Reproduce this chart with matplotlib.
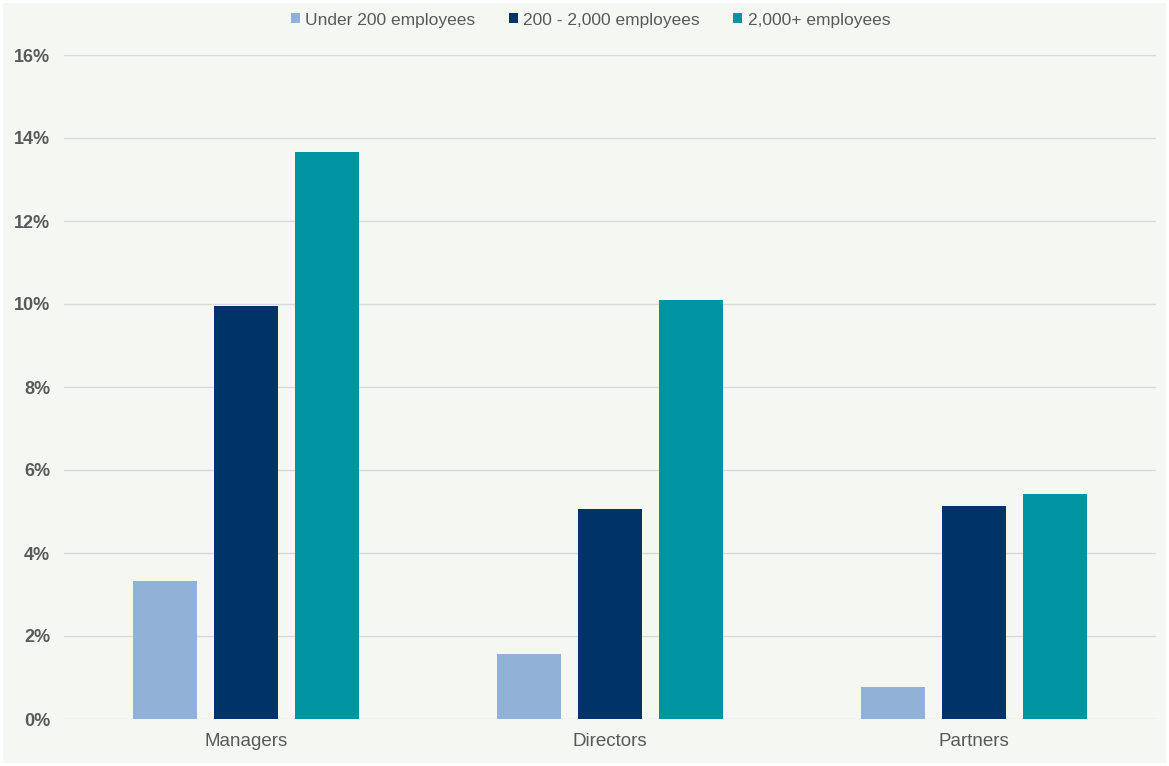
import matplotlib.pyplot as plt
import numpy as np
from matplotlib.patches import Rectangle
from matplotlib.ticker import PercentFormatter

plt.rcParams['font.family'] = ['Liberation Sans', 'DejaVu Sans']

categories = ['Managers', 'Directors', 'Partners']
series_names = ['Under 200 employees', '200 - 2,000 employees', '2,000+ employees']
under_200 = [3.33, 1.57, 0.77]
mid_size = [9.95, 5.06, 5.13]
large = [13.66, 10.1, 5.42]
colors = ['#92B1D7', '#003368', '#0093A0']
bg = '#F5F8F2'

fig = plt.figure(figsize=(11.69, 7.66), dpi=100)
fig.patch.set_facecolor('white')
# page background panel with a thin white margin
fig.patches.append(Rectangle((3/1169, 3/766), 1 - 6/1169, 1 - 6/766,
                             transform=fig.transFigure, facecolor=bg,
                             edgecolor='none', zorder=-1))
ax = fig.add_axes([64/1169, 47/766, 1092/1169, 664/766])
ax.set_facecolor(bg)

x = np.arange(len(categories))
w = 0.176
step = 0.2225
for i, (vals, name) in enumerate(zip([under_200, mid_size, large], series_names)):
    ax.bar(x + (i - 1) * step, vals, width=w, color=colors[i], label=name, zorder=3)

ax.set_xlim(-0.5, 2.5)
ax.set_ylim(0, 16)
ax.set_yticks(np.arange(0, 17, 2))
ax.yaxis.set_major_formatter(PercentFormatter(decimals=0))
ax.grid(axis='y', color='#D9D9D9', linewidth=1, zorder=0)
for s in ax.spines.values():
    s.set_visible(False)
ax.tick_params(axis='both', length=0)
ax.tick_params(axis='y', pad=10)
ax.tick_params(axis='x', pad=10)
ax.set_xticks(x)
ax.set_xticklabels(categories, fontsize=13.5, color='#595959')
for lab in ax.get_yticklabels():
    lab.set_fontsize(13)
    lab.set_fontweight('bold')
    lab.set_color('#595959')

leg = fig.legend(loc='center', bbox_to_anchor=(0.505, 1 - 20/766), ncol=3,
                 frameon=False, fontsize=12.5, handlelength=0.52, handleheight=0.52,
                 handletextpad=0.3, columnspacing=1.95)
for t in leg.get_texts():
    t.set_color('#595959')

fig.savefig('out.png', dpi=100, facecolor=fig.get_facecolor())
